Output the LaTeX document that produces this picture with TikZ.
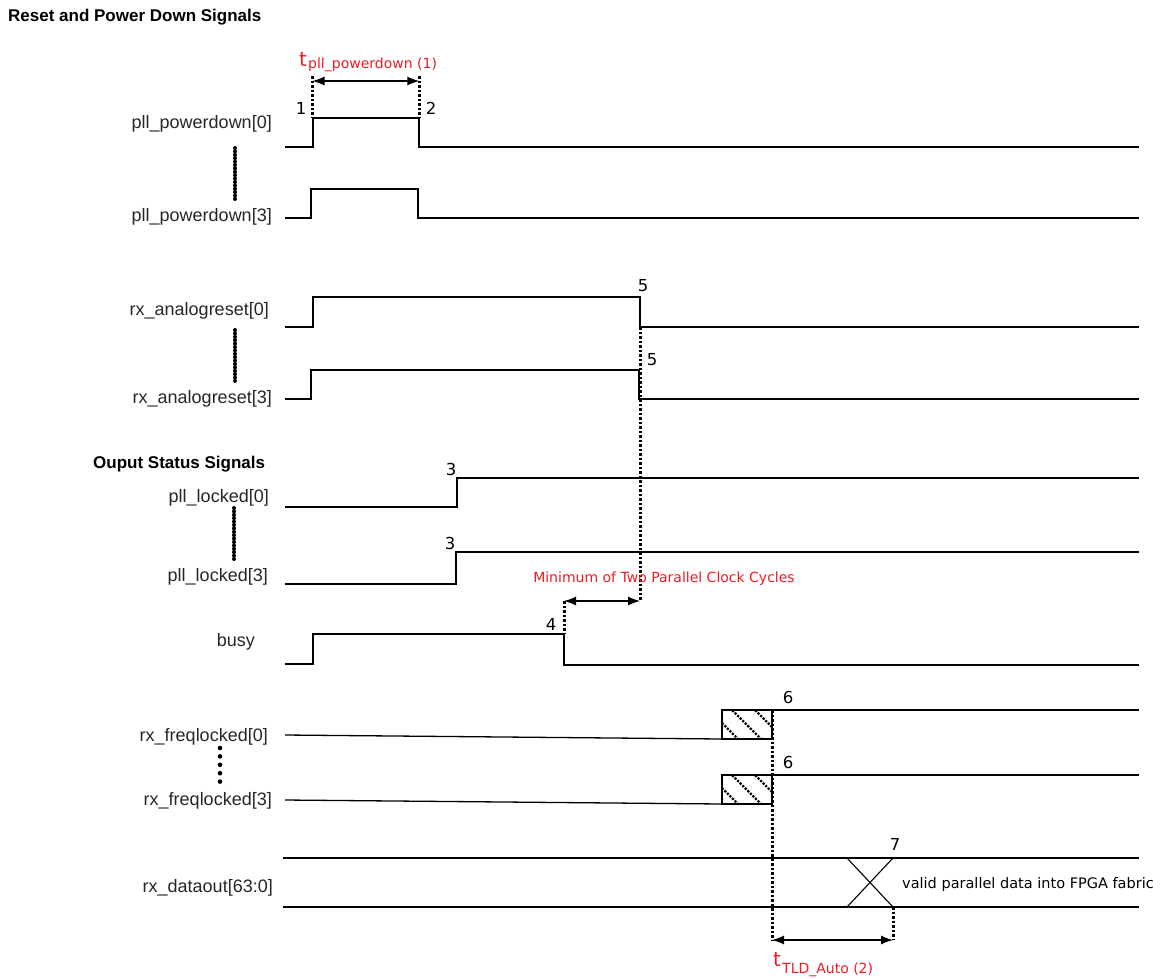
\documentclass[tikz,border=0pt]{standalone}
\usepackage{fontspec}
\setmainfont{Liberation Sans}
\newfontfamily\dvs{DejaVu Sans}
\usetikzlibrary{arrows.meta}
\definecolor{annred}{RGB}{237,28,36}
\begin{document}
\begin{tikzpicture}[x=1pt,y=-1pt,
  sig/.style={line width=1.3pt, line join=miter},
  dotline/.style={line width=3pt, dash pattern=on 2.6pt off 1.9pt},
  ell/.style={line width=4pt, line cap=round, dash pattern=on 0pt off 3.4pt},
  ellwide/.style={line width=4.6pt, line cap=round, dash pattern=on 0pt off 8.4pt},
  hatchline/.style={line width=2.3pt, dash pattern=on 2.2pt off 1.4pt},
  dimarrow/.style={line width=1.2pt, {Latex[length=12pt,width=9pt]}-{Latex[length=12pt,width=9pt]}},
  siglabel/.style={anchor=east, inner sep=0pt, text=black!85, font=\fontsize{18}{20}\selectfont},
  heading/.style={anchor=west, inner sep=0pt, font=\bfseries\fontsize{17}{20}\selectfont},
  evnum/.style={inner sep=0pt, font=\dvs\fontsize{16.5}{18}\selectfont},
  redtxt/.style={inner sep=0pt, text=annred, font=\dvs\fontsize{14}{16}\selectfont},
  redt/.style={inner sep=0pt, text=annred, font=\dvs\fontsize{20}{22}\selectfont},
]
\useasboundingbox (0,0) rectangle (1164,978);

% headings
\node[heading] (h1) at (8,17) {Reset and Power Down Signals};
\node[heading] (h2) at (93,464) {Ouput Status Signals};

% signal labels
\node[siglabel] (l1) at (272,124) {pll\_powerdown[0]};
\node[siglabel] (l2) at (272,217) {pll\_powerdown[3]};
\node[siglabel] (l3) at (269,311) {rx\_analogreset[0]};
\node[siglabel] (l4) at (272,399) {rx\_analogreset[3]};
\node[siglabel] (l5) at (269,498) {pll\_locked[0]};
\node[siglabel] (l6) at (268,577) {pll\_locked[3]};
\node[siglabel] (l7) at (255,642) {busy};
\node[siglabel] (l8) at (268,737) {rx\_freqlocked[0]};
\node[siglabel] (l9) at (272,801) {rx\_freqlocked[3]};
\node[siglabel] (l10) at (273,888) {rx\_dataout[63:0]};

% vertical ellipses between labels
\draw[ell] (235,148) -- (235,200);
\draw[ell] (235,330) -- (235,382);
\draw[ell] (234,508) -- (234,560);
\draw[ellwide] (220,748) -- (220,782);

% waveforms
\draw[sig] (285,147) -- (313,147) -- (313,118) -- (419,118) -- (419,147) -- (1139,147);
\draw[sig] (285,218) -- (311,218) -- (311,189) -- (418,189) -- (418,218) -- (1139,218);
\draw[sig] (285,327) -- (313,327) -- (313,297) -- (640,297) -- (640,327) -- (1139,327);
\draw[sig] (285,399) -- (311,399) -- (311,370) -- (639,370) -- (639,399) -- (1139,399);
\draw[sig] (285,507) -- (457,507) -- (457,478) -- (1139,478);
\draw[sig] (285,584) -- (456,584) -- (456,552) -- (1139,552);
\draw[sig] (285,664) -- (313,664) -- (313,634) -- (564,634) -- (564,665) -- (1139,665);
\draw[sig] (285,735) -- (722,739);
\draw[sig] (722,739) -- (722,710) -- (772,710) -- (772,739) -- cycle;
\draw[sig] (772,710) -- (1139,710);
\draw[sig] (285,800) -- (722,804);
\draw[sig] (722,804) -- (722,775) -- (772,775) -- (772,804) -- cycle;
\draw[sig] (772,775) -- (1139,775);
\draw[sig] (283,858) -- (1139,858);
\draw[sig] (283,907) -- (1139,907);
\draw[line width=1.1pt] (847,907) -- (893,858);
\draw[line width=1.1pt] (847,858) -- (893,907);

% hatching
\foreach \yo in {0,65}{
  \begin{scope}
    \clip (722,710+\yo) rectangle (772,739+\yo);
    \foreach \c in {-1,22,45}{
      \draw[hatchline] (700+\c,700+\yo) -- (750+\c,750+\yo);
    }
  \end{scope}
}

% named coordinates for markers
\coordinate (p1top) at (312.5,76);
\coordinate (p1bot) at (312.5,118);
\coordinate (p2top) at (419.3,76);
\coordinate (p2bot) at (419.3,118);
\coordinate (p1a) at (312.5,81);
\coordinate (p2a) at (419.3,81);
\coordinate (r5top) at (640,327);
\coordinate (r5bot) at (640,601);
\coordinate (b4top) at (564,601);
\coordinate (b4bot) at (564,634);
\coordinate (f6top) at (772,710);
\coordinate (f6bot) at (772,940);
\coordinate (d7top) at (893,907);
\coordinate (d7bot) at (893,940);

\draw[dotline] (p1top) -- (p1bot);
\draw[dotline] (p2top) -- (p2bot);
\draw[dimarrow] (p1a) -- (p2a);
\draw[dotline] (r5top) -- (r5bot);
\draw[dotline] (b4top) -- (b4bot);
\draw[dimarrow] (b4top) -- (r5bot);
\draw[dotline] (f6top) -- (f6bot);
\draw[dotline] (d7top) -- (d7bot);
\draw[dimarrow] (f6bot) -- (d7bot);

% event numbers
\node[evnum] (n1) at (301,108) {1};
\node[evnum] (n2) at (431,108) {2};
\node[evnum] (n5a) at (643,286) {5};
\node[evnum] (n5b) at (652,360) {5};
\node[evnum] (n3a) at (451,469) {3};
\node[evnum] (n3b) at (450,543) {3};
\node[evnum] (n4) at (551,624) {4};
\node[evnum] (n6a) at (788,697) {6};
\node[evnum] (n6b) at (788,762) {6};
\node[evnum] (n7) at (895,844) {7};

% red annotations
\node[redt, anchor=base west] (tp) at (299,66) {t};
\node[redtxt, anchor=base west] (tps) at (308,68) {pll\_powerdown (1)};
\node[redtxt] (minc) at (664,579) {Minimum of Two Parallel Clock Cycles};
\node[redt, anchor=base west] (tt) at (773,966) {t};
\node[redtxt, anchor=base west] (tts) at (782,973) {TLD\_Auto (2)};

% data text
\node[inner sep=0pt, anchor=west, font=\dvs\fontsize{14.5}{16}\selectfont] (vd) at (902,884) {valid parallel data into FPGA fabric};
\end{tikzpicture}
\end{document}
